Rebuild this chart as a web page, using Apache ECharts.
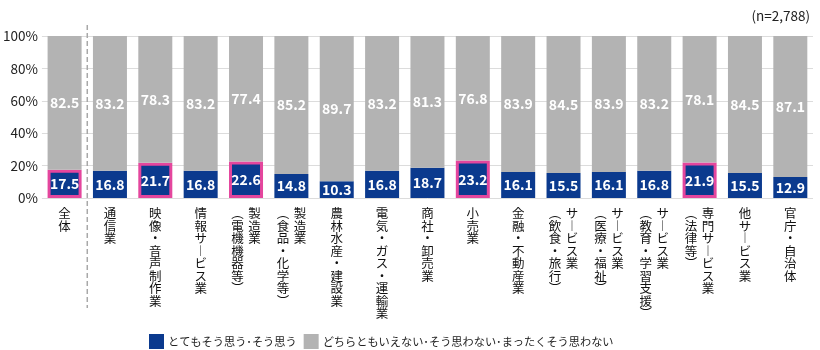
<!DOCTYPE html>
<html>
<head>
<meta charset="utf-8">
<script src="https://cdn.jsdelivr.net/npm/echarts@6/dist/echarts.min.js"></script>
<style>
  html, body { margin: 0; padding: 0; background: #fff; }
  #chart { width: 820px; height: 350px; }
</style>
</head>
<body>
<div id="chart"></div>
<script>
// 業種別
const categories = [
  '全体', '通信業', '映像・音声制作業', '情報サービス業', '製造業（電機機器等）',
  '製造業（食品・化学等）', '農林水産・建設業', '電気・ガス・運輸業', '商社・卸売業', '小売業',
  '金融・不動産業', 'サービス業（飲食・旅行）', 'サービス業（医療・福祉）',
  'サービス業（教育・学習支援）', '専門サービス業（法律等）', '他サービス業', '官庁・自治体'
]
const agree = [17.5, 16.8, 21.7, 16.8, 22.6, 14.8, 10.3, 16.8, 18.7, 23.2, 16.1, 15.5, 16.1, 16.8, 21.9, 15.5, 12.9]
const notAgree = [82.5, 83.2, 78.3, 83.2, 77.4, 85.2, 89.7, 83.2, 81.3, 76.8, 83.9, 84.5, 83.9, 83.2, 78.1, 84.5, 87.1]
const highlighted = ['全体', '映像・音声制作業', '製造業（電機機器等）', '小売業', '専門サービス業（法律等）']
const seriesNames = ['とてもそう思う･そう思う', 'どちらともいえない･そう思わない･まったくそう思わない']
const yTicks = [0, 20, 40, 60, 80, 100]

const BLUE = '#0b3a8e'
const GRAY = '#b3b3b3'
const PINK = '#e4469d'
const FONT = '"Noto Sans CJK JP", "Noto Sans", sans-serif'

// 縦書き用の文字に置き換える
function toVertical (s) {
  return s.split('')
    .map(c => c === 'ー' ? '︱' : c === '（' ? '︵' : c === '）' ? '︶' : c)
    .join('\n')
}
function splitName (name) {
  const i = name.indexOf('（')
  return i < 0 ? [name, ''] : [name.slice(0, i), name.slice(i)]
}

const myChart = echarts.init(document.getElementById('chart'))

const base = { fontSize: 12.5, lineHeight: 12.5, color: '#111', fontFamily: FONT }
const labelRich = {
  s: base,
  r: Object.assign({}, base, { padding: [0, 0, 0, 17] }),
  l: Object.assign({}, base, { padding: [0, 17, 0, 0] })
}

const valueLabel = {
  show: true,
  position: 'inside',
  color: '#fff',
  fontSize: 14,
  fontWeight: 'bold',
  fontFamily: FONT,
  formatter: p => p.value.toFixed(1)
}

const option = {
  animation: false,
  textStyle: { fontFamily: FONT },
  title: {
    text: '(n=2,788)',
    right: 5,
    top: 4,
    textStyle: { fontSize: 13.5, fontWeight: 'normal', color: '#222', fontFamily: FONT }
  },
  legend: {
    left: 144,
    top: 329,
    itemWidth: 15,
    itemHeight: 15,
    itemGap: 7,
    icon: 'rect',
    textStyle: { fontSize: 11.2, color: '#222', fontFamily: FONT, padding: [0, 0, 0, -1] },
    data: seriesNames
  },
  grid: { left: 41, right: 7, top: 36, bottom: 152 },
  xAxis: [
    {
      type: 'category',
      data: categories,
      axisLine: { show: false },
      axisTick: { show: false },
      axisLabel: {
        interval: 0,
        margin: 9,
        verticalAlign: 'top',
        formatter: function (v) {
          const p = splitName(v)
          return (p[1] ? '{r|' : '{s|') + toVertical(p[0]) + '}'
        },
        rich: labelRich
      }
    },
    {
      type: 'category',
      position: 'bottom',
      data: categories,
      axisLine: { show: false },
      axisTick: { show: false },
      axisLabel: {
        interval: 0,
        margin: 9,
        verticalAlign: 'top',
        formatter: function (v) {
          const p = splitName(v)
          return p[1] ? '{l|' + toVertical(p[1]) + '}' : ''
        },
        rich: labelRich
      }
    }
  ],
  yAxis: {
    type: 'value',
    min: yTicks[0],
    max: yTicks[yTicks.length - 1],
    interval: 20,
    axisLine: { show: false },
    axisTick: { show: false },
    splitLine: { lineStyle: { color: '#dcdcdc' } },
    axisLabel: { formatter: '{value}%', fontSize: 13.5, color: '#222', margin: 4, fontFamily: FONT }
  },
  series: [
    {
      name: seriesNames[0],
      type: 'bar',
      stack: 'total',
      barWidth: 34,
      itemStyle: { color: BLUE },
      label: valueLabel,
      data: agree.map((v, i) => highlighted.includes(categories[i])
        ? { value: v, itemStyle: { borderColor: PINK, borderWidth: 3 } }
        : v)
    },
    {
      name: seriesNames[1],
      type: 'bar',
      stack: 'total',
      barWidth: 34,
      itemStyle: { color: GRAY },
      label: valueLabel,
      data: notAgree
    }
  ]
}
myChart.setOption(option)

// 全体と業種の区切り線（点線）
const x0 = myChart.convertToPixel({ xAxisIndex: 0 }, categories[0])
const x1 = myChart.convertToPixel({ xAxisIndex: 0 }, categories[1])
myChart.setOption({
  graphic: [{
    type: 'line',
    shape: { x1: (x0 + x1) / 2, y1: 25, x2: (x0 + x1) / 2, y2: 308 },
    style: { stroke: '#a8a8a8', lineWidth: 1.5, lineDash: [5, 3] },
    z: 0
  }]
})
</script>
</body>
</html>
